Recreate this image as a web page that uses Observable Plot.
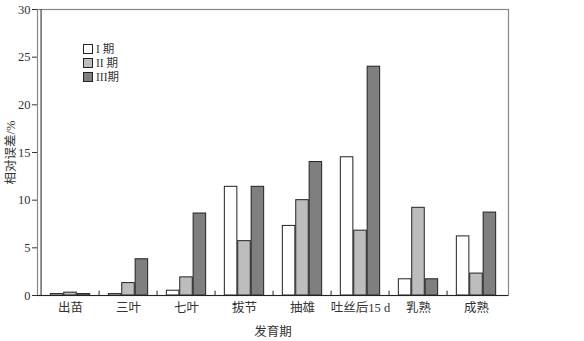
<!DOCTYPE html>
<html><head><meta charset="utf-8">
<script src="https://cdn.jsdelivr.net/npm/d3@7"></script>
<script src="https://cdn.jsdelivr.net/npm/@observablehq/plot@0.6"></script>
<style>
body{margin:0;background:#fff;}
#wrap{position:relative;width:584px;height:341px;}
.lg{position:absolute;left:83px;top:42px;font-family:"Liberation Serif","Noto Sans CJK SC",serif;font-size:11.5px;color:#333;line-height:14px;}
.lg div{display:flex;align-items:center;height:14px;}
.lg span.sw{display:inline-block;width:8px;height:8px;border:1px solid #222;margin-right:3px;}
</style></head>
<body><div id="wrap"></div>
<script>
const categories = ["出苗","三叶","七叶","拔节","抽雄","吐丝后15 d","乳熟","成熟"];
const seriesNames = ["I 期","II 期","III期"];
const seriesColors = ["#ffffff","#bdbdbd","#7f7f7f"];
const period1 = [0.15, 0.15, 0.5, 11.4, 7.3, 14.5, 1.7, 6.2];
const period2 = [0.3, 1.3, 1.9, 5.7, 10.0, 6.8, 9.2, 2.3];
const period3 = [0.15, 3.8, 8.6, 11.4, 14.0, 24.0, 1.7, 8.7];
const yTicks = [0,5,10,15,20,25,30];

const allSeries = [period1, period2, period3];
const font = '"Liberation Serif","Noto Sans CJK SC",serif';
const W = 584, H = 341, mL = 37, mR = 76, mT = 9, mB = 46;
const band = (W - mL - mR) / categories.length;
const barW = 13.4;
const inset = (band - barW) / 2;

const marks = [];
allSeries.forEach((vals, i) => {
  const data = categories.map((c, j) => ({c, v: vals[j]}));
  marks.push(Plot.barY(data, {x: "c", y: "v", fill: seriesColors[i], stroke: "#222", strokeWidth: 1,
    insetLeft: inset, insetRight: inset, dx: (i - 1) * barW}));
});
marks.push(Plot.frame({stroke: "#888", strokeWidth: 1.2}));
marks.push(Plot.ruleY([0], {stroke: "#222", strokeWidth: 1.2}));
marks.push(Plot.ruleX([categories[0]], {x: d => d, dx: -band / 2, y1: 0, y2: 30, stroke: "#444", strokeWidth: 1.2}));
marks.push(Plot.ruleX(categories.slice(1), {x: d => d, dx: -band / 2, y1: 0, y2: 0.45, stroke: "#222"}));

const chart = Plot.plot({
  width: W, height: H, marginLeft: mL, marginRight: mR, marginTop: mT, marginBottom: mB,
  style: {fontFamily: font, fontSize: "12.5px", color: "#333", background: "#fff"},
  x: {domain: categories, padding: 0, tickSize: 0, tickPadding: 8, label: "发育期", labelAnchor: "center", labelOffset: 40},
  y: {domain: [0, 30], ticks: yTicks, tickSize: 5, tickPadding: 2, label: "相对误差/%", labelAnchor: "center", labelOffset: 31, labelArrow: "none"},
  marks
});
const wrap = document.getElementById("wrap");
wrap.appendChild(chart);
const lg = document.createElement("div");
lg.className = "lg";
seriesNames.forEach((n, i) => {
  const row = document.createElement("div");
  row.innerHTML = `<span class="sw" style="background:${seriesColors[i]}"></span>${n}`;
  lg.appendChild(row);
});
wrap.appendChild(lg);
</script></body></html>
